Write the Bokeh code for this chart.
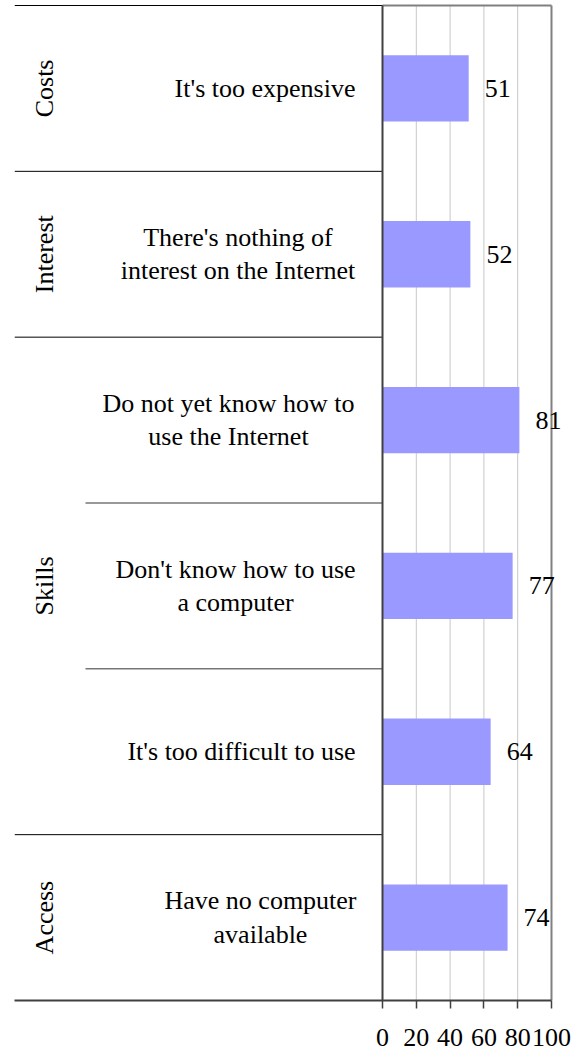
import math
from bokeh.plotting import figure
from bokeh.models import Range1d, FixedTicker
from bokeh.core.properties import value
from bokeh.embed import file_html
from bokeh.resources import INLINE

# ---------------- data ----------------
groups = ["Costs", "Interest", "Skills", "Skills", "Skills", "Access"]
items = [
    "It's too expensive",
    "There's nothing of\ninterest on the Internet",
    "Do not yet know how to\nuse the Internet",
    "Don't know how to use\na computer",
    "It's too difficult to use",
    "Have no computer\navailable",
]
values = [51, 52, 81, 77, 64, 74]
x_ticks = [0, 20, 40, 60, 80, 100]

# ---------------- layout (screen pixels) ----------------
W, H = 579, 1057
FRAME_L, ZERO_PX, HUNDRED_PX, FRAME_R = 14, 382, 551, 567
TOP_PX, ROWS_TOP_PX, BOTTOM_PX = 1, 5, 1000
ITEM_SEP_PX = 85
GROUP_LABEL_CX = 44
ITEM_LABEL_CX = [264.5, 237.5, 228, 235, 241, 260]
FONT = "'Liberation Serif', 'Times New Roman', Times, serif"
FSIZE = "26px"

n = len(items)
PPU = (HUNDRED_PX - ZERO_PX) / 100.0
row_px = (BOTTOM_PX - ROWS_TOP_PX) / n
x_start = -(ZERO_PX - FRAME_L) / PPU
x_end = 100 + (FRAME_R - HUNDRED_PX) / PPU
y_end = n + (ROWS_TOP_PX - TOP_PX) / row_px

ys = [n - 0.5 - i for i in range(n)]

p = figure(
    width=W, height=H,
    x_range=Range1d(x_start, x_end), y_range=Range1d(0, y_end),
    output_backend="svg", toolbar_location=None,
    min_border_left=FRAME_L, min_border_right=W - FRAME_R,
    min_border_top=TOP_PX, min_border_bottom=H - BOTTOM_PX,
    y_axis_location=None,
)
p.outline_line_color = None
p.grid.visible = False
p.background_fill_color = "white"
p.border_fill_color = "white"

# vertical grid lines
gx = x_ticks[1:-1]
p.segment(x0=gx, y0=[0] * len(gx), x1=gx, y1=[n] * len(gx),
          line_color="#c8c8c8", line_width=1)

# bars
p.hbar(y=ys, left=0, right=values, height=0.4,
       fill_color="#9999ff", line_color=None)

# frame borders
p.segment(x0=[0, 100], y0=[n, 0], x1=[100, 100], y1=[n, n],
          line_color="#808080", line_width=2)

# separators in the label area
grp_y = [n]
item_y = []
for i in range(1, n):
    if groups[i] != groups[i - 1]:
        grp_y.append(n - i)
    else:
        item_y.append(n - i)
p.segment(x0=[x_start] * len(grp_y), y0=grp_y, x1=[0] * len(grp_y), y1=grp_y,
          line_color="black", line_width=1)
sep_x = -(ZERO_PX - ITEM_SEP_PX) / PPU
p.segment(x0=[sep_x] * len(item_y), y0=item_y, x1=[0] * len(item_y), y1=item_y,
          line_color="#333333", line_width=1)

# left axis line of the plot area
p.segment(x0=[0], y0=[0], x1=[0], y1=[n], line_color="#404040", line_width=2)

# item labels
p.text(x=[0] * n, y=ys, text=items,
       x_offset=[cx - ZERO_PX for cx in ITEM_LABEL_CX],
       text_align="center", text_baseline="middle",
       text_font=value(FONT), text_font_size=FSIZE, text_color="black",
       text_line_height=1.15)

# group labels
gnames, gys = [], []
i = 0
while i < n:
    j = i
    while j + 1 < n and groups[j + 1] == groups[i]:
        j += 1
    gnames.append(groups[i])
    gys.append(sum(ys[i:j + 1]) / (j - i + 1))
    i = j + 1
p.text(x=[0] * len(gnames), y=gys, text=gnames, angle=math.pi / 2,
       x_offset=GROUP_LABEL_CX - ZERO_PX,
       text_align="center", text_baseline="middle",
       text_font=value(FONT), text_font_size=FSIZE, text_color="black")

# value labels
p.text(x=values, y=ys, text=[str(v) for v in values], x_offset=16,
       text_align="left", text_baseline="middle",
       text_font=value(FONT), text_font_size=FSIZE, text_color="black")

# x axis
ax = p.xaxis[0]
ax.ticker = FixedTicker(ticks=x_ticks)
ax.bounds = (x_start, 100)
ax.axis_line_color = "#404040"
ax.axis_line_width = 2
ax.major_tick_in = 0
ax.major_tick_out = 8
ax.major_tick_line_color = "#404040"
ax.major_tick_line_width = 1.5
ax.minor_tick_out = 0
ax.minor_tick_in = 0
ax.major_label_text_font = FONT
ax.major_label_text_font_size = FSIZE
ax.major_label_text_color = "black"
ax.major_label_standoff = 20

open("out.html", "w").write(file_html(p, INLINE))
